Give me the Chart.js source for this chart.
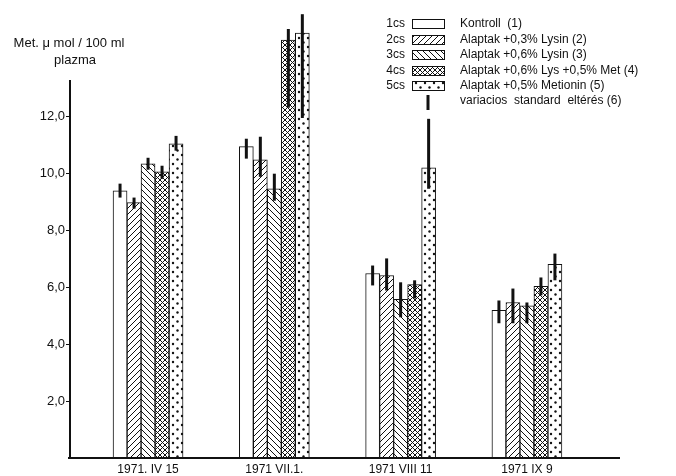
<!DOCTYPE html>
<html>
<head>
<meta charset="utf-8">
<script src="https://cdn.jsdelivr.net/npm/chart.js@4.4.1/dist/chart.umd.min.js"></script>
<style>
  html, body { margin: 0; padding: 0; background: #fff; }
  #wrap { width: 676px; height: 476px; }
</style>
</head>
<body>
<div id="wrap"><canvas id="metChart" width="676" height="476"></canvas></div>
<script>
// dates of sampling
const categories = ["1971. IV 15", "1971 VII.1.", "1971 VIII 11", "1971 IX 9"];
const groupTags = ["1cs", "2cs", "3cs", "4cs", "5cs"];
const groupNames = [
  "Kontroll  (1)",
  "Alaptak +0,3% Lysin (2)",
  "Alaptak +0,6% Lysin (3)",
  "Alaptak +0,6% Lys +0,5% Met (4)",
  "Alaptak +0,5% Metionin (5)"
];
const sdLabel = "variacios  standard  eltérés (6)";

// Met µmol / 100 ml plasma
const kontroll = [9.40, 10.95, 6.49, 5.19];
const lysin03  = [8.98, 10.49, 6.42, 5.47];
const lysin06  = [10.35, 9.47, 5.58, 5.35];
const lysMet   = [10.07, 14.70, 6.10, 6.04];
const metionin = [11.05, 14.95, 10.21, 6.81];

// spread drawn as thick vertical line [low, high]
const kontrollSd = [[9.16, 9.65], [10.53, 11.23], [6.07, 6.77], [4.74, 5.54]];
const lysin03Sd  = [[8.77, 9.16], [9.89, 11.30], [5.89, 7.02], [4.74, 5.96]];
const lysin06Sd  = [[10.14, 10.56], [9.05, 10.00], [4.95, 6.18], [4.74, 5.47]];
const lysMetSd   = [[9.82, 10.28], [12.32, 15.09], [5.61, 6.25], [5.72, 6.35]];
const metioninSd = [[10.81, 11.33], [11.96, 15.61], [9.47, 11.93], [6.25, 7.19]];

const yTicks = [2, 4, 6, 8, 10, 12];
const yAxisTop = 13.3;

const INK = "#111";
const FONT = "'Liberation Sans', Arial, sans-serif";

function makePattern(kind) {
  const t = document.createElement("canvas");
  const s = kind === "dots" ? 9 : (kind === "cross" ? 5 : 6);
  t.width = s; t.height = s;
  const g = t.getContext("2d");
  g.fillStyle = "#fff";
  g.fillRect(0, 0, s, s);
  if (kind === "plain") return g.createPattern(t, "repeat");
  g.strokeStyle = INK;
  g.fillStyle = INK;
  g.lineWidth = 1;
  const fwd = () => {
    g.beginPath();
    g.moveTo(0, s); g.lineTo(s, 0);
    g.moveTo(-1, 1); g.lineTo(1, -1);
    g.moveTo(s - 1, s + 1); g.lineTo(s + 1, s - 1);
    g.stroke();
  };
  const back = () => {
    g.beginPath();
    g.moveTo(0, 0); g.lineTo(s, s);
    g.moveTo(-1, s - 1); g.lineTo(1, s + 1);
    g.moveTo(s - 1, -1); g.lineTo(s + 1, 1);
    g.stroke();
  };
  if (kind === "fwd") fwd();
  if (kind === "back") back();
  if (kind === "cross") { fwd(); back(); }
  if (kind === "dots") {
    g.beginPath(); g.arc(2, 2, 1.2, 0, Math.PI * 2); g.fill();
    g.beginPath(); g.arc(6.5, 6.5, 1.2, 0, Math.PI * 2); g.fill();
  }
  return g.createPattern(t, "repeat");
}

const fills = [makePattern("plain"), makePattern("fwd"), makePattern("back"), makePattern("cross"), makePattern("dots")];
const seriesValues = [kontroll, lysin03, lysin06, lysMet, metionin];
const seriesSd = [kontrollSd, lysin03Sd, lysin06Sd, lysMetSd, metioninSd];

const datasets = seriesValues.map((vals, i) => ({
  label: groupNames[i],
  data: vals.map((v, k) => ({ x: k, y: v })),
  sd: seriesSd[i],
  backgroundColor: fills[i],
  borderColor: INK,
  borderWidth: 1,
  barThickness: 14
}));

const sdBars = {
  id: "sdBars",
  afterDatasetsDraw(chart) {
    const ctx = chart.ctx;
    const y = chart.scales.y;
    ctx.save();
    ctx.strokeStyle = INK;
    ctx.lineWidth = 3;
    chart.data.datasets.forEach((ds, i) => {
      chart.getDatasetMeta(i).data.forEach((bar, k) => {
        const r = ds.sd[k];
        ctx.beginPath();
        ctx.moveTo(bar.x, y.getPixelForValue(r[0]));
        ctx.lineTo(bar.x, y.getPixelForValue(r[1]));
        ctx.stroke();
      });
    });
    ctx.restore();
  }
};

const axesAndText = {
  id: "axesAndText",
  afterDraw(chart) {
    const ctx = chart.ctx;
    const a = chart.chartArea;
    const y = chart.scales.y;
    const y0 = y.getPixelForValue(0);
    ctx.save();
    ctx.strokeStyle = INK;
    ctx.lineWidth = 2;
    ctx.beginPath();
    ctx.moveTo(a.left, y.getPixelForValue(yAxisTop));
    ctx.lineTo(a.left, y0);
    ctx.moveTo(a.left - 2, y0);
    ctx.lineTo(a.right, y0);
    ctx.stroke();

    // axis title
    ctx.fillStyle = INK;
    ctx.font = "13px " + FONT;
    ctx.textAlign = "center";
    ctx.textBaseline = "middle";
    ctx.fillText("Met. μ mol / 100 ml", 69, 43);
    ctx.fillText("plazma", 75, 60);

    // legend
    const rows = [24, 40, 55, 71, 86];
    ctx.font = "12px " + FONT;
    groupNames.forEach((name, i) => {
      const ry = rows[i];
      ctx.textAlign = "right";
      ctx.fillStyle = INK;
      ctx.fillText(groupTags[i], 405, ry);
      ctx.fillStyle = fills[i];
      ctx.fillRect(412, ry - 5, 33, 10);
      ctx.lineWidth = 1;
      ctx.strokeRect(412.5, ry - 4.5, 32, 9);
      ctx.textAlign = "left";
      ctx.fillStyle = INK;
      ctx.fillText(name, 460, ry);
    });
    ctx.lineWidth = 3;
    ctx.beginPath();
    ctx.moveTo(428, 95);
    ctx.lineTo(428, 110);
    ctx.stroke();
    ctx.fillText(sdLabel, 460, 101);
    ctx.restore();
  }
};

new Chart(document.getElementById("metChart"), {
  type: "bar",
  data: { datasets },
  options: {
    responsive: false,
    animation: false,
    devicePixelRatio: 1,
    layout: { padding: { top: 8, right: 56, left: 0, bottom: 0 } },
    plugins: { legend: { display: false }, tooltip: { enabled: false } },
    scales: {
      x: {
        type: "linear",
        offset: false,
        min: -0.618,
        max: 3.737,
        grid: { display: false, drawTicks: false, offset: false },
        border: { display: false },
        afterBuildTicks(scale) { scale.ticks = categories.map((c, i) => ({ value: i })); },
        afterFit(scale) { scale.height = 18; },
        ticks: {
          padding: 4,
          color: INK,
          font: { family: FONT, size: 12 },
          callback: v => categories[v]
        }
      },
      y: {
        min: 0,
        max: 15.8,
        border: { display: false },
        grid: { drawOnChartArea: false, drawTicks: true, tickLength: 4, color: INK, lineWidth: 1 },
        afterBuildTicks(scale) { scale.ticks = yTicks.map(v => ({ value: v })); },
        afterFit(scale) { scale.width = 70; },
        ticks: {
          padding: 1,
          color: INK,
          font: { family: FONT, size: 13 },
          callback: v => v.toFixed(1).replace(".", ",")
        }
      }
    }
  },
  plugins: [sdBars, axesAndText]
});
</script>
</body>
</html>
